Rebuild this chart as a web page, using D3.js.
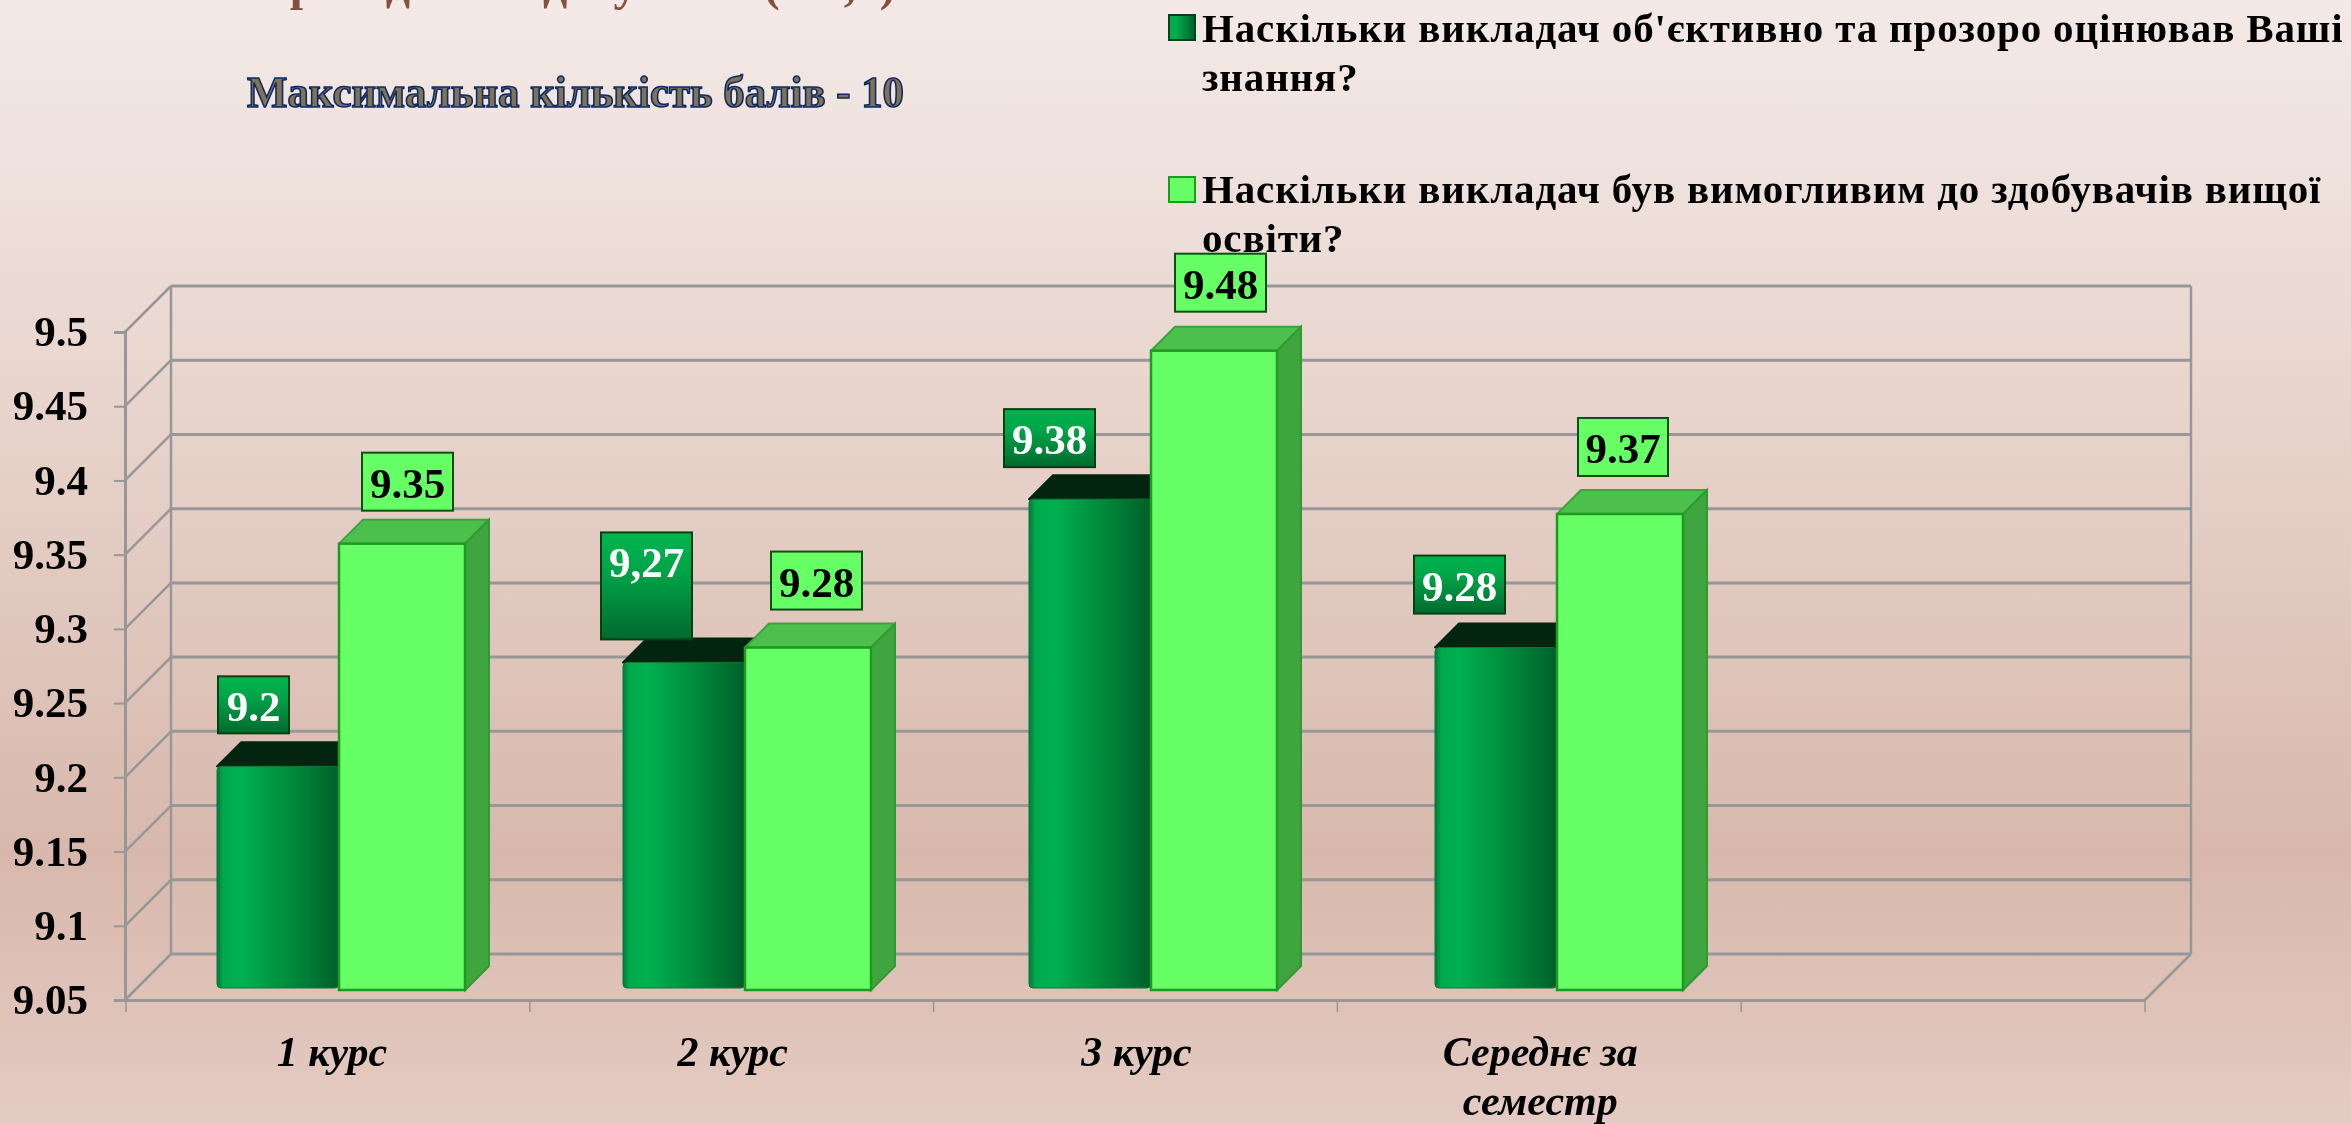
<!DOCTYPE html>
<html>
<head>
<meta charset="utf-8">
<script src="https://cdn.jsdelivr.net/npm/d3@7"></script>
<style>
    html, body { margin: 0; padding: 0; background: #e8d5cd; }
    svg { display: block; filter: blur(0.6px); }
    text { font-family: "Liberation Serif", serif; font-weight: bold; fill: #000; }
</style>
</head>
<body>
<script>
//chart values
const categories = ["1 курс", "2 курс", "3 курс", "Середнє за семестр", ""];
const seriesNames = ["Наскільки викладач об'єктивно та прозоро оцінював Ваші знання?", "Наскільки викладач був вимогливим до здобувачів вищої освіти?"];
const objectiveValues = [9.2, 9.27, 9.38, 9.28];
const demandingValues = [9.35, 9.28, 9.48, 9.37];
const objectiveLabels = ["9.2", "9,27", "9.38", "9.28"];
const demandingLabels = ["9.35", "9.28", "9.48", "9.37"];
const yTicks = [9.05, 9.1, 9.15, 9.2, 9.25, 9.3, 9.35, 9.4, 9.45, 9.5];
const titleText = "Максимальна кількість балів - 10";
const headingText = "проведення здобувачів (1-3,5)";

//SVG dimension variables
const w = 2351, h = 1124;
const depth = 46; //depth of the 3d box
const barShift = 11; //bars stand a bit behind the front edge
const barDepth = 24;

const svg = d3.select("body").append("svg")
    .attr("width", w)
    .attr("height", h);

const defs = svg.append("defs");

function gradient(id, vertical, stops) {
    const g = defs.append("linearGradient")
        .attr("id", id)
        .attr("x1", 0).attr("y1", 0)
        .attr("x2", vertical ? 0 : 1).attr("y2", vertical ? 1 : 0);
    stops.forEach(s => g.append("stop").attr("offset", s[0]).attr("stop-color", s[1]));
}

gradient("bg", true, [[0, "#f4e9e6"], [0.12, "#f0e3df"], [0.38, "#e7d3cb"], [0.76, "#d8b8ac"], [1, "#e4cbc3"]]);
gradient("darkBar", false, [[0, "#04763a"], [0.05, "#00a94c"], [0.2, "#00b14f"], [0.6, "#008a3c"], [1, "#005f2a"]]);
gradient("darkBox", true, [[0, "#00b44f"], [0.35, "#00a548"], [1, "#006a2e"]]);

svg.append("rect")
    .attr("width", w)
    .attr("height", h)
    .attr("fill", "url(#bg)");

//scales
const y = d3.scaleLinear()
    .domain([9.05, 9.5])
    .range([1000, 332]);

const xAxisScale = d3.scaleBand()
    .domain(categories)
    .range([126, 2145]);

const xBars = d3.scaleBand()
    .domain(categories)
    .range([217, 217 + 406 * categories.length]);

const xSeries = d3.scaleBand()
    .domain([0, 1])
    .range([0, 248]);

//back wall and side wall grid
const grid = svg.append("g").attr("class", "grid");
const gridColor = "#979797";

grid.selectAll(".backLine")
    .data(yTicks)
    .enter()
    .append("line")
    .attr("class", "backLine")
    .attr("x1", 171)
    .attr("x2", 2191)
    .attr("y1", d => y(d) - depth)
    .attr("y2", d => y(d) - depth)
    .attr("stroke", gridColor)
    .attr("stroke-width", 3);

grid.selectAll(".sideLine")
    .data(yTicks)
    .enter()
    .append("line")
    .attr("class", "sideLine")
    .attr("x1", 125)
    .attr("x2", 171)
    .attr("y1", d => y(d))
    .attr("y2", d => y(d) - depth)
    .attr("stroke", gridColor)
    .attr("stroke-width", 2.5);

//back corners and floor edge
const wallEdges = [
    [171, y(9.5) - depth, 171, y(9.05) - depth],
    [2191, y(9.5) - depth, 2191, y(9.05) - depth],
    [2145, y(9.05), 2191, y(9.05) - depth]
];
grid.selectAll(".wallEdge")
    .data(wallEdges)
    .enter()
    .append("line")
    .attr("class", "wallEdge")
    .attr("x1", d => d[0]).attr("y1", d => d[1])
    .attr("x2", d => d[2]).attr("y2", d => d[3])
    .attr("stroke", gridColor)
    .attr("stroke-width", 2.5);

//y axis
const yAxis = d3.axisLeft(y)
    .tickValues(yTicks)
    .tickFormat(d => String(d))
    .tickSize(11)
    .tickPadding(26);

const yAxisG = svg.append("g")
    .attr("transform", "translate(125,0)")
    .call(yAxis);
yAxisG.select(".domain").attr("stroke", gridColor).attr("stroke-width", 3);
yAxisG.selectAll(".tick line").attr("stroke", gridColor).attr("stroke-width", 2);
yAxisG.selectAll("text")
    .attr("dy", "0.32em")
    .style("font-size", "43px")
    .style("font-family", '"Liberation Serif", serif');

//x axis
const xAxis = d3.axisBottom(xAxisScale).tickSize(0).tickFormat("");
const xAxisG = svg.append("g")
    .attr("transform", "translate(0,1000)")
    .call(xAxis);
xAxisG.select(".domain").attr("stroke", gridColor).attr("stroke-width", 3);

svg.selectAll(".xTick")
    .data(d3.range(categories.length + 1))
    .enter()
    .append("line")
    .attr("class", "xTick")
    .attr("x1", i => 126 + i * xAxisScale.step())
    .attr("x2", i => 126 + i * xAxisScale.step())
    .attr("y1", 1000)
    .attr("y2", 1012)
    .attr("stroke", gridColor)
    .attr("stroke-width", 1.5);

//category labels, the long one is broken on two lines
const catLabels = svg.selectAll(".catLabel")
    .data(categories.slice(0, 4))
    .enter()
    .append("text")
    .attr("class", "catLabel")
    .attr("text-anchor", "middle")
    .attr("y", 1066)
    .style("font-size", "42px")
    .style("font-style", "italic");

catLabels.each(function (d, n) {
    const cx = xAxisScale(d) + xAxisScale.bandwidth() / 2 + (n === 0 ? 4 : 1);
    const lines = d === "Середнє за семестр" ? ["Середнє за", "семестр"] : [d];
    d3.select(this).selectAll("tspan")
        .data(lines)
        .enter()
        .append("tspan")
        .attr("x", cx)
        .attr("dy", (l, i) => i ? 49 : 0)
        .text(l => l);
});

//heading cut by the top edge
svg.append("text")
    .attr("x", 262)
    .attr("y", 0)
    .style("font-size", "48px")
    .style("fill", "#84503f")
    .text(headingText);

//subtitle
svg.append("text")
    .attr("x", 247)
    .attr("y", 107)
    .attr("textLength", 657)
    .attr("lengthAdjust", "spacingAndGlyphs")
    .style("font-size", "44px")
    .style("fill", "#7f7256")
    .style("stroke", "#0b2a66")
    .style("stroke-width", 1.6)
    .text(titleText);

//legend
const legendLines = [
    ["Наскільки викладач об'єктивно та прозоро оцінював Ваші", "знання?"],
    ["Наскільки викладач був вимогливим до здобувачів вищої", "освіти?"]
];
const legendTop = [15, 177];
const legendBase = [42, 203];

svg.selectAll(".legendKey")
    .data(seriesNames)
    .enter()
    .append("rect")
    .attr("class", "legendKey")
    .attr("x", 1169)
    .attr("y", (d, i) => legendTop[i])
    .attr("width", 26)
    .attr("height", 25)
    .attr("fill", (d, i) => i ? "#66ff66" : "url(#darkBar)")
    .attr("stroke", (d, i) => i ? "#1f9a20" : "#04401c")
    .attr("stroke-width", 2);

legendLines.forEach((lines, i) => {
    lines.forEach((line, j) => {
        svg.append("text")
            .attr("class", "legendText")
            .attr("x", 1202)
            .attr("y", legendBase[i] + j * 49)
            .style("font-size", "41px")
            .style("letter-spacing", "0.85px")
            .text(line);
    });
});

//bars, one pair per category
const barData = categories.slice(0, 4).map((c, i) => ({
    category: c,
    dark: objectiveValues[i],
    light: demandingValues[i]
}));

const barBottom = y(9.05) - barShift + 1;

function drawBar(g, x0, width, value, isLight) {
    const top = y(value) - barShift;
    const x1 = x0 + width;
    const d = barDepth;
    g.append("path") //top face
        .attr("d", `M${x0},${top}L${x0 + d},${top - d}H${x1 + d}L${x1},${top}Z`)
        .attr("fill", isLight ? "#4cbf4c" : "#03240f")
        .attr("stroke", isLight ? "#3aa53c" : "#03240f")
        .attr("stroke-width", 2)
        .attr("stroke-linejoin", "round");
    if (isLight) {
        g.append("path") //side face
            .attr("d", `M${x1},${top}L${x1 + d},${top - d}V${barBottom - d}L${x1},${barBottom}Z`)
            .attr("fill", "#3fa53f")
            .attr("stroke", "#2f9a33")
            .attr("stroke-width", 2);
    }
    g.append("rect")
        .attr("x", x0)
        .attr("y", top)
        .attr("width", width)
        .attr("height", barBottom - top - (isLight ? 0 : 2))
        .attr("rx", isLight ? 0 : 4)
        .attr("fill", isLight ? "#66ff66" : "url(#darkBar)")
        .attr("stroke", isLight ? "#1f9a20" : "#067a38")
        .attr("stroke-width", isLight ? 2.5 : 1);
}

const groups = svg.selectAll(".barGroup")
    .data(barData)
    .enter()
    .append("g")
    .attr("class", "barGroup");

groups.each(function (d) {
    const g = d3.select(this);
    const x0 = xBars(d.category);
    drawBar(g, x0 + xSeries(0), xSeries.bandwidth() - 2, d.dark, false);
    drawBar(g, x0 + xSeries(1) - 2, xSeries.bandwidth() + 2, d.light, true);
});

//value labels, hand placed in the original
const darkNudge = [
    { dx: 1, gap: 33, bw: 71, bh: 57 },
    { dx: -22, gap: 23, bw: 91, bh: 107 },
    { dx: -25, gap: 32, bw: 91, bh: 58 },
    { dx: -21, gap: 34, bw: 91, bh: 58 }
];
const lightNudge = [
    { dx: 23, gap: 33, bw: 91, bh: 58 },
    { dx: 26, gap: 38, bw: 91, bh: 58 },
    { dx: 24, gap: 39, bw: 91, bh: 58 },
    { dx: 21, gap: 38, bw: 90, bh: 58 }
];

function drawLabels(values, labels, nudge, seriesIdx) {
    const isLight = seriesIdx === 1;
    const boxes = svg.selectAll(".valueBox" + seriesIdx)
        .data(values)
        .enter()
        .append("g")
        .attr("class", "valueBox" + seriesIdx)
        .attr("transform", (d, i) => {
            const left = xBars(categories[i]) + xSeries(seriesIdx) - (isLight ? 2 : 0) + nudge[i].dx;
            const topY = y(d) - barShift - nudge[i].gap - nudge[i].bh;
            return `translate(${left},${topY})`;
        });

    boxes.append("rect")
        .attr("width", (d, i) => nudge[i].bw)
        .attr("height", (d, i) => nudge[i].bh)
        .attr("fill", isLight ? "#66ff66" : "url(#darkBox)")
        .attr("stroke", isLight ? "#0d4f14" : "#06400f")
        .attr("stroke-width", 2);

    boxes.append("text")
        .attr("x", (d, i) => nudge[i].bw / 2)
        .attr("y", 45)
        .attr("text-anchor", "middle")
        .style("font-size", "43px")
        .style("fill", isLight ? "#000" : "#fff")
        .text((d, i) => labels[i]);
}

drawLabels(objectiveValues, objectiveLabels, darkNudge, 0);
drawLabels(demandingValues, demandingLabels, lightNudge, 1);
</script>
</body>
</html>
